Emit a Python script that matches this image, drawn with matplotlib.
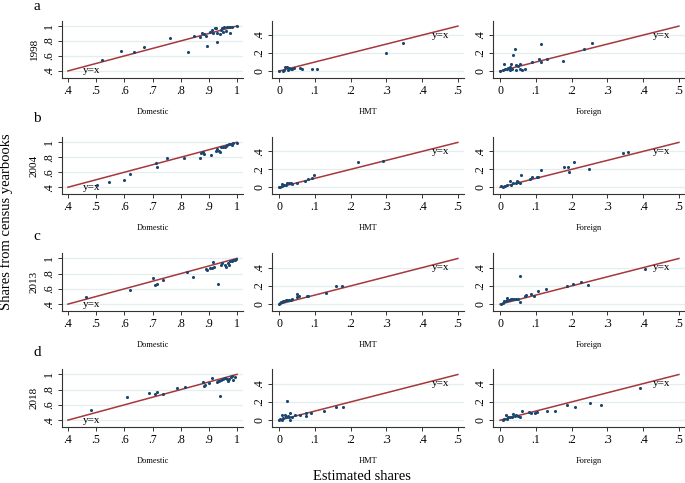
import matplotlib
matplotlib.use("Agg")
import matplotlib.pyplot as plt

# Fonts / colours
plt.rcParams["font.family"] = ["Liberation Serif", "DejaVu Serif"]
DOT_COLOR = "#1a476f"
LINE_COLOR = "#a5383c"
GRID_COLOR = "#e4eeee"

ROW_LETTERS = ["a", "b", "c", "d"]
YEARS = ["1998", "2004", "2013", "2018"]
COLUMNS = ["Domestic", "HMT", "Foreign"]

# Domestic: estimated (x) vs census (y)
dom_1998_x = [0.52, 0.59, 0.634, 0.67, 0.762, 0.826, 0.847, 0.867, 0.876, 0.882, 0.891, 0.892,
              0.903, 0.911, 0.915, 0.92, 0.927, 0.929, 0.929, 0.938, 0.943, 0.947, 0.95, 0.953,
              0.96, 0.964, 0.97, 0.974, 0.976, 0.982, 1.0]
dom_1998_y = [0.55, 0.66, 0.65, 0.72, 0.834, 0.65, 0.865, 0.85, 0.906, 0.89, 0.87, 0.73,
              0.92, 0.95, 0.905, 0.97, 0.97, 0.90, 0.79, 0.89, 0.94, 0.97, 0.92, 0.98,
              0.93, 0.98, 0.985, 0.985, 0.905, 0.985, 1.0]
dom_2004_x = [0.504, 0.544, 0.6, 0.62, 0.712, 0.717, 0.753, 0.811, 0.867, 0.872, 0.88, 0.884,
              0.908, 0.924, 0.93, 0.935, 0.94, 0.942, 0.95, 0.956, 0.962, 0.964, 0.972, 0.98,
              0.982, 0.986, 0.998]
dom_2004_y = [0.432, 0.472, 0.499, 0.58, 0.72, 0.67, 0.79, 0.79, 0.79, 0.856, 0.865, 0.84,
              0.83, 0.88, 0.91, 0.89, 0.87, 0.937, 0.937, 0.94, 0.95, 0.96, 0.977, 0.98,
              0.96, 0.986, 0.99]
dom_2013_x = [0.464, 0.62, 0.703, 0.71, 0.715, 0.737, 0.821, 0.845, 0.89, 0.892, 0.904, 0.911,
              0.916, 0.918, 0.934, 0.943, 0.948, 0.956, 0.962, 0.967, 0.972, 0.976, 0.981,
              0.986, 0.991, 0.995]
dom_2013_y = [0.498, 0.588, 0.736, 0.646, 0.664, 0.713, 0.821, 0.754, 0.861, 0.843, 0.879, 0.879,
              0.955, 0.892, 0.67, 0.915, 0.937, 0.919, 0.892, 0.933, 0.915, 0.96, 0.969,
              0.973, 0.982, 0.995]
dom_2018_x = [0.482, 0.611, 0.689, 0.71, 0.716, 0.737, 0.788, 0.815, 0.879, 0.882, 0.886, 0.899,
              0.91, 0.928, 0.933, 0.936, 0.94, 0.944, 0.95, 0.957, 0.963, 0.969, 0.973, 0.978,
              0.982, 0.986, 0.993]
dom_2018_y = [0.533, 0.698, 0.751, 0.747, 0.773, 0.747, 0.818, 0.831, 0.902, 0.844, 0.862, 0.889,
              0.947, 0.898, 0.911, 0.907, 0.711, 0.929, 0.933, 0.947, 0.933, 0.916, 0.933, 0.964,
              0.973, 0.92, 0.964]

# HMT
hmt_1998_x = [0.0, 0.01, 0.014, 0.018, 0.022, 0.025, 0.027, 0.033, 0.037, 0.042, 0.059, 0.064,
              0.093, 0.107, 0.30, 0.346]
hmt_1998_y = [0.0, 0.004, 0.011, 0.044, 0.044, 0.007, 0.037, 0.018, 0.026, 0.03, 0.037, 0.022,
              0.019, 0.022, 0.204, 0.307]
hmt_2004_x = [0.0, 0.004, 0.007, 0.009, 0.011, 0.014, 0.019, 0.023, 0.028, 0.033, 0.037, 0.051,
              0.073, 0.081, 0.092, 0.098, 0.221, 0.29]
hmt_2004_y = [0.0, 0.007, 0.011, 0.037, 0.022, 0.026, 0.026, 0.052, 0.049, 0.052, 0.037, 0.045,
              0.067, 0.09, 0.105, 0.135, 0.277, 0.292]
hmt_2013_x = [0.0, 0.003, 0.006, 0.008, 0.011, 0.014, 0.019, 0.023, 0.028, 0.033, 0.037, 0.049,
              0.05, 0.056, 0.077, 0.081, 0.131, 0.159, 0.175]
hmt_2013_y = [0.0, 0.011, 0.019, 0.022, 0.03, 0.034, 0.041, 0.041, 0.041, 0.049, 0.06, 0.108,
              0.075, 0.093, 0.093, 0.093, 0.123, 0.194, 0.198]
hmt_2018_x = [0.0, 0.004, 0.007, 0.009, 0.012, 0.016, 0.019, 0.022, 0.025, 0.028, 0.03, 0.032,
              0.036, 0.044, 0.058, 0.076, 0.076, 0.088, 0.126, 0.16, 0.178]
hmt_2018_y = [0.007, 0.015, 0.0, 0.06, 0.019, 0.052, 0.03, 0.213, 0.041, 0.03, 0.082, 0.0,
              0.03, 0.052, 0.06, 0.082, 0.049, 0.082, 0.105, 0.15, 0.146]

# Foreign
for_1998_x = [0.0, 0.009, 0.011, 0.014, 0.019, 0.023, 0.027, 0.028, 0.032, 0.033, 0.036, 0.042,
              0.044, 0.046, 0.051, 0.055, 0.056, 0.061, 0.07, 0.088, 0.11, 0.114, 0.115, 0.132,
              0.175, 0.236, 0.258]
for_1998_y = [0.0, 0.007, 0.081, 0.019, 0.022, 0.037, 0.048, 0.011, 0.081, 0.019, 0.181, 0.248,
              0.063, 0.011, 0.059, 0.078, 0.026, 0.015, 0.022, 0.104, 0.13, 0.304, 0.1, 0.133,
              0.115, 0.248, 0.311]
for_2004_x = [0.002, 0.009, 0.014, 0.02, 0.028, 0.03, 0.037, 0.044, 0.048, 0.051, 0.055, 0.06,
              0.083, 0.088, 0.102, 0.107, 0.115, 0.18, 0.189, 0.194, 0.206, 0.25, 0.345, 0.358]
for_2004_y = [0.011, 0.0, 0.015, 0.026, 0.075, 0.03, 0.045, 0.052, 0.075, 0.064, 0.052, 0.135,
              0.097, 0.116, 0.116, 0.116, 0.191, 0.224, 0.224, 0.168, 0.277, 0.209, 0.378, 0.389]
for_2013_x = [0.002, 0.007, 0.011, 0.016, 0.019, 0.02, 0.025, 0.03, 0.034, 0.039, 0.046, 0.051,
              0.055, 0.056, 0.07, 0.074, 0.087, 0.095, 0.107, 0.128, 0.186, 0.204, 0.225, 0.247,
              0.405]
for_2013_y = [0.007, 0.015, 0.03, 0.037, 0.071, 0.045, 0.041, 0.056, 0.06, 0.06, 0.06, 0.06,
              0.314, 0.019, 0.093, 0.101, 0.112, 0.09, 0.142, 0.164, 0.202, 0.221, 0.243, 0.206,
              0.385]
for_2018_x = [0.007, 0.011, 0.016, 0.02, 0.023, 0.028, 0.033, 0.037, 0.041, 0.044, 0.049, 0.056,
              0.061, 0.08, 0.086, 0.097, 0.104, 0.131, 0.153, 0.186, 0.21, 0.252, 0.281, 0.391]
for_2018_y = [0.0, 0.015, 0.052, 0.015, 0.037, 0.037, 0.037, 0.064, 0.045, 0.052, 0.045, 0.037,
              0.105, 0.09, 0.079, 0.082, 0.09, 0.105, 0.105, 0.168, 0.146, 0.183, 0.165, 0.355]

PANELS = [
    [(dom_1998_x, dom_1998_y), (hmt_1998_x, hmt_1998_y), (for_1998_x, for_1998_y)],
    [(dom_2004_x, dom_2004_y), (hmt_2004_x, hmt_2004_y), (for_2004_x, for_2004_y)],
    [(dom_2013_x, dom_2013_y), (hmt_2013_x, hmt_2013_y), (for_2013_x, for_2013_y)],
    [(dom_2018_x, dom_2018_y), (hmt_2018_x, hmt_2018_y), (for_2018_x, for_2018_y)],
]

W, H = 685, 483
# axes boxes in pixels: (left, right) per column, (top, bottom) per row
COL_PX = [(62, 243), (272, 464), (493, 685)]
ROW_PX = [(20.7, 77.7), (137, 194), (253, 311), (369, 427)]
LETTER_Y = [7, 119, 236, 352]


def style_axes(ax, col):
    if col == 0:
        ax.set_xlim(0.379, 1.021)
        ax.set_ylim(0.31, 1.07)
        ax.set_xticks([0.4, 0.5, 0.6, 0.7, 0.8, 0.9, 1.0])
        ax.set_xticklabels([".4", ".5", ".6", ".7", ".8", ".9", "1"])
        ax.set_yticks([0.4, 0.6, 0.8, 1.0])
        ax.set_yticklabels([".4", ".6", ".8", "1"])
    else:
        ax.set_xlim(-0.0196, 0.517)
        ax.set_ylim(-0.074, 0.56)
        ax.set_xticks([0, 0.1, 0.2, 0.3, 0.4, 0.5])
        ax.set_xticklabels(["0", ".1", ".2", ".3", ".4", ".5"])
        ax.set_yticks([0, 0.2, 0.4])
        ax.set_yticklabels(["0", ".2", ".4"])
    for s in ["top", "right"]:
        ax.spines[s].set_visible(False)
    for s in ["left", "bottom"]:
        ax.spines[s].set_linewidth(0.8)
        ax.spines[s].set_color("#333333")
    ax.tick_params(axis="both", length=3, width=0.7, labelsize=8.5, pad=2, colors="#333333")
    ax.tick_params(axis="x", labelcolor="black")
    ax.tick_params(axis="y", labelcolor="black")
    for lbl in ax.get_yticklabels():
        lbl.set_rotation(90)
        lbl.set_va("center")
    ax.grid(axis="y", color=GRID_COLOR, linewidth=0.9)
    ax.set_axisbelow(True)


fig = plt.figure(figsize=(W / 100, H / 100), dpi=100)

for r in range(4):
    top, bottom = ROW_PX[r]
    for c in range(3):
        left, right = COL_PX[c]
        ax = fig.add_axes([left / W, 1 - bottom / H, (right - left) / W, (bottom - top) / H])
        style_axes(ax, c)
        xs, ys = PANELS[r][c]
        if c == 0:
            ax.plot([0.4, 1.0], [0.4, 1.0], color=LINE_COLOR, linewidth=1.1, zorder=2)
            ax.text(0.452, 0.4, "y=x", fontsize=8, ha="left", va="center")
        else:
            ax.plot([0, 0.5], [0, 0.5], color=LINE_COLOR, linewidth=1.1, zorder=2)
            ax.text(0.427, 0.4, "y=x", fontsize=8, ha="left", va="center")
        ax.scatter(xs, ys, s=5, color=DOT_COLOR, linewidths=0, zorder=3)
        ax.set_xlabel(COLUMNS[c], fontsize=6, labelpad=8)
        if c == 0:
            ax.set_ylabel(YEARS[r], fontsize=8, labelpad=3)
    fig.text(37 / W, 1 - LETTER_Y[r] / H, ROW_LETTERS[r], fontsize=11, ha="center", va="center")

fig.text(6 / W, 1 - 222 / H, "Shares from census yearbooks", fontsize=10.5,
         rotation=90, ha="center", va="center")
fig.text(362 / W, 1 - 477 / H, "Estimated shares", fontsize=10.5, ha="center", va="center")

fig.savefig("out.png", dpi=100)
